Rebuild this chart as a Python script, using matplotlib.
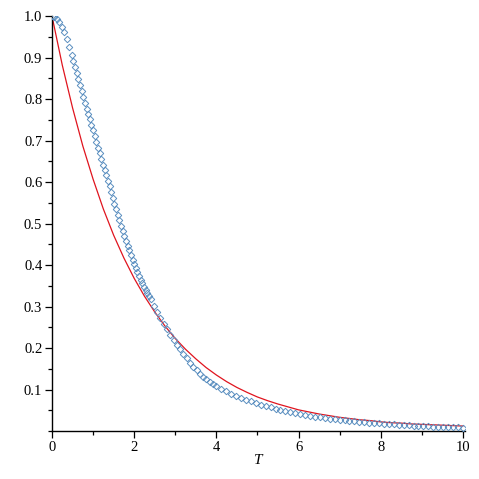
import matplotlib.pyplot as plt
from matplotlib.ticker import MultipleLocator, FixedLocator

# red curve
t_red = [0.0, 0.25, 0.5, 0.75, 1.0, 1.25, 1.5, 1.75, 2.0, 2.25, 2.5, 2.75,
         3.0, 3.25, 3.5, 3.75, 4.0, 4.25, 4.5, 4.75, 5.0, 5.25, 5.5, 5.75,
         6.0, 6.25, 6.5, 6.75, 7.0, 7.25, 7.5, 7.75, 8.0, 8.25, 8.5, 8.75,
         9.0, 9.25, 9.5, 9.75, 10.0]
y_red = [1.000, 0.882, 0.779, 0.687, 0.607, 0.535, 0.472, 0.417, 0.368, 0.325,
         0.287, 0.253, 0.223, 0.197, 0.174, 0.153, 0.135, 0.119, 0.105, 0.093,
         0.082, 0.073, 0.065, 0.058, 0.051, 0.046, 0.041, 0.037, 0.033, 0.030,
         0.027, 0.025, 0.022, 0.020, 0.019, 0.017, 0.016, 0.015, 0.014, 0.013,
         0.012]

# blue diamond points
t_pts = [0.0, 0.06, 0.12, 0.18, 0.24, 0.30, 0.36, 0.42, 0.48,
         0.52, 0.56, 0.60, 0.64, 0.68, 0.72, 0.76, 0.80, 0.84, 0.88, 0.92,
         0.96, 1.00, 1.04, 1.08, 1.12, 1.16, 1.20, 1.24, 1.28, 1.32, 1.36,
         1.40, 1.44, 1.48, 1.52, 1.56, 1.60, 1.64, 1.68, 1.72, 1.76, 1.80,
         1.84, 1.88, 1.92, 1.96, 2.00, 2.04, 2.08, 2.12, 2.16, 2.20, 2.24,
         2.28, 2.32, 2.36, 2.40,
         2.48, 2.56, 2.64, 2.72, 2.80, 2.88, 2.96, 3.04, 3.12, 3.20, 3.28,
         3.36, 3.44, 3.52, 3.60, 3.68, 3.76, 3.84, 3.92, 4.00,
         4.12, 4.24, 4.36, 4.48, 4.60, 4.72, 4.84, 4.96, 5.08, 5.20, 5.32,
         5.44, 5.56, 5.68, 5.80, 5.92, 6.04, 6.16, 6.28, 6.40, 6.52, 6.64,
         6.76, 6.88, 7.00, 7.12, 7.24, 7.36, 7.48, 7.60, 7.72, 7.84, 7.96,
         8.08, 8.20, 8.32, 8.44, 8.56, 8.68, 8.80, 8.92, 9.04, 9.16, 9.28,
         9.40, 9.52, 9.64, 9.76, 9.88, 10.00]
y_pts = [1.000, 0.998, 0.994, 0.986, 0.975, 0.961, 0.945, 0.926, 0.906,
         0.892, 0.878, 0.863, 0.849, 0.834, 0.819, 0.805, 0.790, 0.777, 0.764,
         0.751, 0.738, 0.725, 0.711, 0.697, 0.683, 0.669, 0.655, 0.642, 0.629,
         0.616, 0.603, 0.590, 0.576, 0.562, 0.548, 0.534, 0.521, 0.508, 0.495,
         0.483, 0.470, 0.458, 0.447, 0.436, 0.424, 0.413, 0.402, 0.392, 0.383,
         0.374, 0.365, 0.356, 0.348, 0.340, 0.333, 0.325, 0.318,
         0.3025, 0.2875, 0.273, 0.259, 0.2455, 0.2325, 0.220, 0.208, 0.1965,
         0.1855, 0.175, 0.165, 0.1555, 0.1467, 0.1386, 0.1312, 0.1245, 0.1185,
         0.1132, 0.1085,
         0.1017, 0.0957, 0.0901, 0.0849, 0.0800, 0.0755, 0.0713, 0.0673,
         0.0635, 0.0600, 0.0567, 0.0535, 0.0505, 0.0477, 0.0451, 0.0426,
         0.0403, 0.0382, 0.0363, 0.0345, 0.0327, 0.0312, 0.0297, 0.0283,
         0.0270, 0.0257, 0.0245, 0.0233, 0.0221, 0.0211, 0.0201, 0.0192,
         0.0183, 0.0175, 0.0167, 0.0160, 0.0153, 0.0146, 0.0138, 0.0131,
         0.0124, 0.0118, 0.0112, 0.0107, 0.0104, 0.0099, 0.0094, 0.0090,
         0.0085, 0.0080]

y_ticks = [0.1, 0.2, 0.3, 0.4, 0.5, 0.6, 0.7, 0.8, 0.9, 1.0]
x_ticks = [0, 2, 4, 6, 8, 10]

plt.rcParams['font.family'] = ['Liberation Serif', 'DejaVu Serif']

fig = plt.figure(figsize=(4.79, 4.79), dpi=100)
ax = fig.add_axes([0.1086, 0.1002, 0.862, 0.866])

ax.plot(t_red, y_red, color='#e0141e', linewidth=0.9, zorder=2)
ax.plot(t_pts, y_pts, linestyle='none', marker='D', markersize=3.3,
        markerfacecolor='none', markeredgecolor='#5b8fc0', markeredgewidth=0.7,
        zorder=3)

ax.set_xlim(0, 10.05)
ax.set_ylim(0, 1.0)

for side in ['top', 'right']:
    ax.spines[side].set_visible(False)
for side in ['left', 'bottom']:
    ax.spines[side].set_color('black')
    ax.spines[side].set_linewidth(1.0)

ax.xaxis.set_major_locator(FixedLocator(x_ticks))
ax.xaxis.set_minor_locator(MultipleLocator(1))
ax.yaxis.set_major_locator(FixedLocator(y_ticks))
ax.yaxis.set_minor_locator(MultipleLocator(0.05))
ax.set_xticklabels([str(v) for v in x_ticks])
ax.set_yticklabels([f"{v:.1f}" for v in y_ticks])

ax.tick_params(which='major', length=5, width=0.9, direction='out', labelsize=10.5, pad=2)
ax.tick_params(which='minor', length=3, width=0.9, direction='out')

ax.set_xlabel('T', fontsize=11, fontstyle='italic', labelpad=0)

fig.savefig('out.png', dpi=100)
